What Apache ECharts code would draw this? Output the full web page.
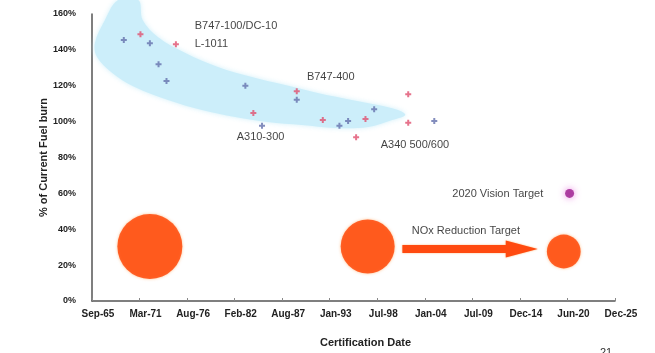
<!DOCTYPE html>
<html>
<head>
<meta charset="utf-8">
<script src="https://cdn.jsdelivr.net/npm/echarts@6/dist/echarts.min.js"></script>
<style>
html,body{margin:0;padding:0;background:#fff;}
#chart{width:655px;height:353px;}
</style>
</head>
<body>
<div id="chart"></div>
<script>
// ---- data (dates as YYYY-MM, values in % of current fuel burn) ----
const xAxisMin = 24000, xAxisMax = 46000, xAxisStep = 2000;   // Excel day serials: Sep-65 .. Dec-25
const yAxisMin = 0, yAxisMax = 160, yAxisStep = 20;

const blueAircraft = [
  ['1969-05',145.5],['1972-05',143.7],['1973-05',132],['1974-04',122.6],
  ['1983-05',120],['1985-04',97.7],['1989-04',112.2],['1994-03',97.7],
  ['1995-03',100.3],['1998-03',106.9],['2005-02',100.3]
];
const pinkAircraft = [
  ['1971-04',148.7],['1975-05',143.1],['1984-04',104.8],['1989-04',117],
  ['1992-04',100.9],['1996-02',91.3],['1997-03',101.5],['2002-02',115.2],['2002-02',99.4]
];
// NOx bubbles: date, y, relative NOx level
const noxBubbles = [['1972-05',30.4,100],['1997-06',30.4,69],['2020-01',27.6,27]];
const visionTarget = [['2020-09',60]];
const noxArrow = [['2001-06',29],['2017-01',29]];

// trend band outline (upper edge then lower edge)
const bandUpper = [
  ['1968-09',167.8],['1971-01',167.8],['1971-07',156.7],['1973-04',147.2],['1976-06',138.3],
  ['1980-03',130.5],['1984-02',124.9],['1987-12',120.4],['1991-09',116.0],['1995-08',112.1],
  ['1998-08',109.3],['2000-12',106.5],['2001-10',103.7]
];
const bandLower = [
  ['2000-04',100.9],['1997-07',97.0],['1993-09',96.4],['1989-11',98.1],['1985-12',99.8],
  ['1982-03',102.6],['1978-05',106.5],['1974-06',112.1],['1970-08',119.3],['1968-01',127.1],
  ['1966-04',136.0],['1966-01',143.8],['1967-03',156.7]
];

const annotations = [
  ['1977-07',153.3,'B747-100/DC-10'],
  ['1977-07',143.3,'L-1011'],
  ['1990-06',124.9,'B747-400'],
  ['1982-05',91.4,'A310-300'],
  ['1998-12',87.0,'A340 500/600'],
  ['2007-03',59.7,'2020 Vision Target'],
  ['2002-07',39.0,'NOx Reduction Target']
];

const xTitle = 'Certification Date';
const yTitle = '% of Current Fuel burn';
const pageNo = '21';

// ---- helpers ----
const MONTHS = ['Jan','Feb','Mar','Apr','May','Jun','Jul','Aug','Sep','Oct','Nov','Dec'];
function serial(s){
  const p = s.split('-').map(Number);
  return Date.UTC(p[0], p[1]-1, p[2] || 15) / 86400000 + 25569;
}
function fmtSerial(v){
  const d = new Date((v - 25569) * 86400000);
  return MONTHS[d.getUTCMonth()] + '-' + String(d.getUTCFullYear() % 100).padStart(2,'0');
}
const pts = arr => arr.map(r => [serial(r[0]), r[1]].concat(r.slice(2)));

const FONT = '"Liberation Sans", Arial, sans-serif';
const plusPath = 'path://M2,0H4V2H6V4H4V6H2V4H0V2H2Z';

const chart = echarts.init(document.getElementById('chart'), null, {renderer:'canvas'});
const bandPts = pts(bandUpper).concat(pts(bandLower));
const arrowPts = pts(noxArrow);

chart.setOption({
  backgroundColor: '#ffffff',
  animation: false,
  grid: { left: 92, right: 40, top: 14, bottom: 52, containLabel: false },
  xAxis: {
    type: 'value', min: xAxisMin, max: xAxisMax, interval: xAxisStep,
    splitLine: { show: false },
    axisLine: { lineStyle: { color: '#555', width: 1.5 } },
    axisTick: { show: true, inside: true, length: 3, lineStyle: { color: '#888' } },
    axisLabel: {
      formatter: fmtSerial, color: '#222', fontFamily: FONT, fontSize: 10, fontWeight: 'bold',
      margin: 8, padding: [0,0,0,12]
    },
    name: xTitle, nameLocation: 'middle', nameGap: 36, nameMoveOverlap: false,
    nameTextStyle: { color: '#222', fontFamily: FONT, fontSize: 11, fontWeight: 'bold', padding: [0,0,0,24] }
  },
  yAxis: {
    type: 'value', min: yAxisMin, max: yAxisMax, interval: yAxisStep,
    splitLine: { show: false },
    axisLine: { show: true, lineStyle: { color: '#555', width: 1.5 } },
    axisTick: { show: false },
    axisLabel: {
      formatter: v => v + '%', color: '#222', fontFamily: FONT, fontSize: 9, fontWeight: 'bold', margin: 16
    },
    name: yTitle, nameLocation: 'middle', nameGap: 43, nameRotate: 90, nameMoveOverlap: false,
    nameTextStyle: { color: '#222', fontFamily: FONT, fontSize: 11, fontWeight: 'bold' }
  },
  series: [
    {
      type: 'custom', name: 'band', clip: false, z: 1, silent: true,
      data: [0],
      renderItem: function(params, api){
        const poly = bandPts.map(p => api.coord(p));
        return {
          type: 'polygon',
          shape: { points: poly, smooth: 0.35 },
          style: { fill: 'rgb(204,238,250)', shadowBlur: 5, shadowColor: 'rgba(204,238,250,0.9)' }
        };
      }
    },
    {
      type: 'scatter', name: 'NOx', z: 2, silent: true,
      data: pts(noxBubbles),
      symbol: 'circle',
      symbolSize: v => 65 * Math.sqrt(v[2] / 100),
      itemStyle: { color: '#ff4000', shadowBlur: 3, shadowColor: 'rgba(255,160,80,0.8)' }
    },
    {
      type: 'custom', name: 'arrow', clip: false, z: 2, silent: true,
      data: [0],
      renderItem: function(params, api){
        const a = api.coord(arrowPts[0]), b = api.coord(arrowPts[1]);
        const t = 4, hl = 32, hw = 8.5, y = a[1];
        const hx = b[0] - hl;
        return {
          type: 'polygon',
          shape: { points: [[a[0], y - t],[hx, y - t],[hx, y - hw],[b[0], y],[hx, y + hw],[hx, y + t],[a[0], y + t]] },
          style: { fill: '#ff4a10', shadowBlur: 2, shadowColor: 'rgba(255,160,80,0.8)' }
        };
      }
    },
    {
      type: 'scatter', name: 'vision', z: 3, silent: true,
      data: pts(visionTarget), symbol: 'circle', symbolSize: 9,
      itemStyle: { color: '#9a1a8c', shadowBlur: 7, shadowColor: 'rgba(230,100,220,1)' }
    },
    {
      type: 'scatter', name: 'blue', z: 4, silent: true,
      data: pts(blueAircraft), symbol: plusPath, symbolSize: 6,
      itemStyle: { color: '#6470ac' }
    },
    {
      type: 'scatter', name: 'pink', z: 4, silent: true,
      data: pts(pinkAircraft), symbol: plusPath, symbolSize: 6,
      itemStyle: { color: '#e0506f' }
    },
    {
      type: 'scatter', name: 'labels', z: 5, silent: true,
      data: pts(annotations), symbolSize: 0,
      label: {
        show: true, position: 'right', distance: 0,
        formatter: p => p.data[2],
        color: '#111', fontFamily: FONT, fontSize: 11
      }
    }
  ],
  graphic: [
    { type: 'text', left: 600, top: 347, style: { text: pageNo, fill: '#333', font: '11px ' + FONT } }
  ]
});
</script>
</body>
</html>
